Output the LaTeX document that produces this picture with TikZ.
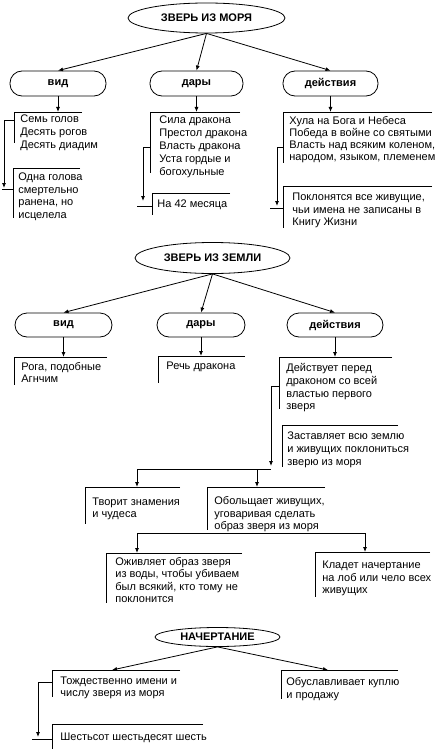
\documentclass[tikz,border=0pt]{standalone}
\usepackage{fontspec}
\setmainfont{Liberation Sans}
\usetikzlibrary{shapes.geometric,arrows.meta}
\newcommand\mkframe[5]{%
  \node[frame,minimum width=#4pt,minimum height=#5pt] (#1) at (#2,#3) {};
  \draw (#1.north east) -| (#1.south west);}
\begin{document}
\begin{tikzpicture}[x=1pt,y=-1pt,
  line width=0.8pt,
  arr/.style={-{Latex[length=5pt,width=4pt]}},
  oval/.style={ellipse,draw,inner sep=0pt,font=\bfseries\fontsize{11}{13}\selectfont},
  pill/.style={draw,rounded corners=12pt,inner sep=0pt,minimum height=25pt,font=\bfseries\fontsize{11}{13}\selectfont},
  frame/.style={anchor=north west,inner sep=0pt,outer sep=0pt,draw=none},
  txt/.style={anchor=north west,inner sep=0pt,align=left,yshift=5.5pt,font=\fontsize{11}{12.6}\selectfont},
]
\useasboundingbox (0,0) rectangle (435,749);

% ---------- ЗВЕРЬ ИЗ МОРЯ ----------
\node[oval,minimum width=157pt,minimum height=30pt] (sea) at (206.5,18) {ЗВЕРЬ ИЗ МОРЯ};
\node[pill,minimum width=96pt] (vid1) at (58,83.5) {вид};
\node[pill,minimum width=93pt] (dar1) at (196.5,83.5) {дары};
\node[pill,minimum width=95pt] (act1) at (330.5,83.5) {действия};
\draw[arr] (sea.south) -- (vid1.north);
\draw[arr] (sea.south) -- (dar1.north);
\draw[arr] (sea.south) -- (act1.north);

\mkframe{f1}{14}{112}{68}{31}
\node[txt,font=\fontsize{11}{13}\selectfont] (t1) at (20,118) {\strut Семь голов\\Десять рогов\\Десять диадим};
\draw[arr] (vid1.south) -- (vid1.south |- f1.north);
\mkframe{f2}{13}{168}{67}{50}
\node[txt] (t2) at (18,177) {\strut Одна голова\\смертельно\\ранена, но\\исцелела};
\coordinate (k1) at (4,188);
\coordinate (k1t) at (2,189);
\draw[arr] ([yshift=-8pt]f1.north west) -| (k1);
\draw (k1t) -- (k1t -| f2.west);

\mkframe{f3}{150}{112}{90}{61}
\node[txt,font=\fontsize{11}{12.8}\selectfont] (t3) at (159,120) {\strut Сила дракона\\Престол дракона\\Власть дракона\\Уста гордые и\\богохульные};
\draw[arr] (dar1.south) -- (dar1.south |- f3.north);
\mkframe{f4}{152}{193}{78}{22}
\node[txt] (t4) at (157,204) {\strut На 42 месяца};
\coordinate (k2) at (143,201);
\coordinate (k2t) at (137,206);
\draw[arr] ([yshift=-35pt]f3.north west) -| (k2);
\draw (k2t) -- (k2t -| f4.west);

\mkframe{f5}{283}{112}{149}{51}
\node[txt,font=\fontsize{11}{12}\selectfont] (t5) at (289,121) {\strut Хула на Бога и Небеса\\Победа в войне со святыми\\Власть над всяким коленом,\\народом, языком, племенем};
\draw[arr] (act1.south) -- (act1.south |- f5.north);
\mkframe{f6}{283}{186}{149}{42}
\node[txt] (t6) at (292,197) {\strut Поклонятся все живущие,\\чьи имена не записаны в\\Книгу Жизни};
\coordinate (k3) at (277,206);
\coordinate (k3t) at (270,208);
\draw[arr] ([yshift=-35pt]f5.north west) -| (k3);
\draw (k3t) -- (k3t -| f6.west);

% ---------- ЗВЕРЬ ИЗ ЗЕМЛИ ----------
\node[oval,minimum width=155pt,minimum height=31pt] (earth) at (212.5,258) {ЗВЕРЬ ИЗ ЗЕМЛИ};
\node[pill,minimum width=97pt,minimum height=24pt] (vid2) at (63.5,325) {вид};
\node[pill,minimum width=88pt,minimum height=24pt] (dar2) at (201,325) {дары};
\node[pill,minimum width=96pt,minimum height=24pt] (act2) at (335,325) {действия};
\draw[arr] (earth.south) -- (vid2.north);
\draw[arr] (earth.south) -- (dar2.north);
\draw[arr] (earth.south) -- (act2.north);

\mkframe{f7}{14}{357}{93}{28}
\node[txt,font=\fontsize{11}{12}\selectfont] (t7) at (21,367) {\strut Рога, подобные\\Агнчим};
\draw[arr] (vid2.south) -- (vid2.south |- f7.north);
\mkframe{f8}{158}{356}{87}{27}
\node[txt] (t8) at (166,366) {\strut Речь дракона};
\draw[arr] (dar2.south) -- (dar2.south |- f8.north);
\mkframe{f9}{279}{357}{113}{52}
\node[txt,font=\fontsize{11}{12.7}\selectfont] (t9) at (286,368) {\strut Действует перед\\драконом со всей\\властью первого\\зверя};
\draw[arr] (act2.south) -- (act2.south |- f9.north);

\mkframe{f10}{282}{425}{116}{42}
\node[txt,font=\fontsize{11}{13.3}\selectfont] (t10) at (287,435) {\strut Заставляет всю землю\\и живущих поклониться\\зверю из моря};
\coordinate (k4) at (271,466);
\draw[arr] ([yshift=-29pt]f9.north west) -| (k4);

\coordinate (h1l) at (137,469);
\coordinate (h1m) at (257,469);
\coordinate (h1r) at (271,469);
\draw (h1l) -- (h1r);
\mkframe{f11}{85}{487}{95}{37}
\node[txt,font=\fontsize{11}{12}\selectfont] (t11) at (92,502) {\strut Творит знамения\\и чудеса};
\mkframe{f12}{207}{487}{118}{43}
\node[txt,font=\fontsize{11}{12.5}\selectfont] (t12) at (214,501) {\strut Обольщает живущих,\\уговаривая сделать\\образ зверя из моря};
\draw[arr] (h1l) -- (h1l |- f11.north);
\draw[arr] (h1m) -- (h1m |- f12.north);

\coordinate (h2l) at (137,533);
\coordinate (h2r) at (365,533);
\draw (h2l) -- (h2r);
\mkframe{f13}{106}{553}{136}{50}
\node[txt,font=\fontsize{11}{12.3}\selectfont] (t13) at (115,562) {\strut Оживляет образ зверя\\из воды, чтобы убиваем\\был всякий, кто тому не\\поклонится};
\mkframe{f14}{315}{552}{115}{45}
\node[txt,font=\fontsize{11}{12.5}\selectfont] (t14) at (322,565) {\strut Кладет начертание\\на лоб или чело всех\\живущих};
\draw[arr] (h2l) -- (h2l |- f13.north);
\draw[arr] (h2r) -- (h2r |- f14.north);

% ---------- НАЧЕРТАНИЕ ----------
\node[oval,minimum width=125pt,minimum height=19pt] (mark) at (217.5,637) {НАЧЕРТАНИЕ};
\mkframe{f15}{52}{670}{128}{27}
\node[txt,font=\fontsize{11}{12}\selectfont] (t15) at (60,681) {\strut Тождественно имени и\\числу зверя из моря};
\mkframe{f16}{281}{670}{117}{29}
\node[txt,font=\fontsize{11}{13}\selectfont] (t16) at (286,681) {\strut Обуславливает куплю\\и продажу};
\draw[arr] (mark.south) -- ([xshift=60pt]f15.north west);
\draw[arr] (mark.south) -- ([xshift=47pt]f16.north west);

\mkframe{f17}{52}{724}{151}{25}
\node[txt] (t17) at (60,737) {\strut Шестьсот шестьдесят шесть};
\coordinate (k5) at (38,737);
\coordinate (k5t) at (32,739);
\draw[arr] ([yshift=-12pt]f15.north west) -| (k5);
\draw (k5t) -- (k5t -| f17.west);
\end{tikzpicture}
\end{document}
